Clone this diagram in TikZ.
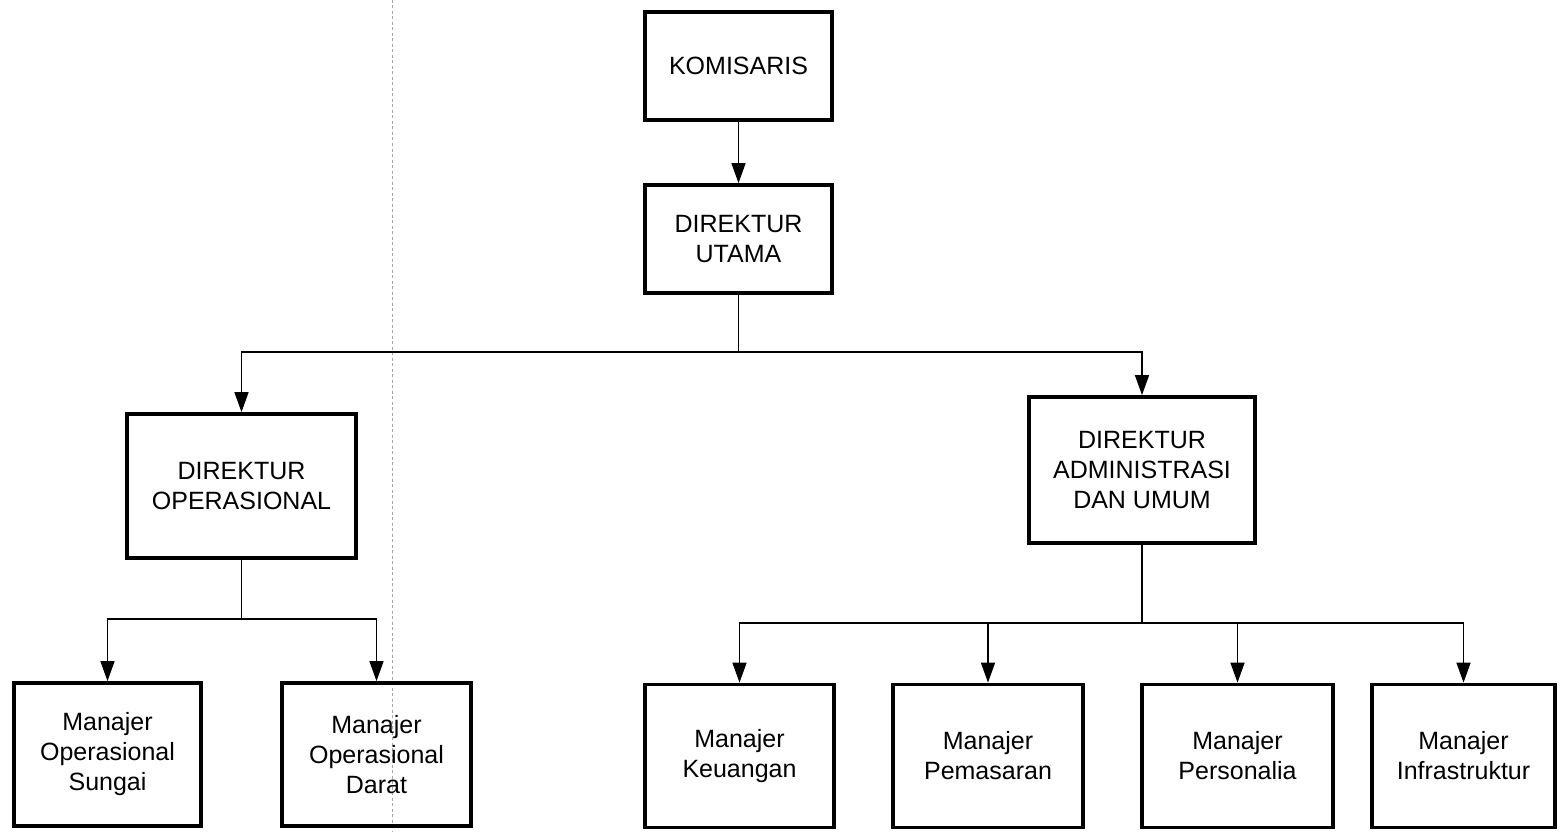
\documentclass[tikz,border=0pt]{standalone}
\usepackage{fontspec}
\setmainfont{Liberation Sans}
\usetikzlibrary{arrows.meta}
\begin{document}
\begin{tikzpicture}[x=1pt,y=-1pt,
  orgbox/.style={draw=black, line width=3.8pt, align=center, inner sep=0pt,
    font=\fontsize{25}{30}\selectfont},
  conn/.style={line width=1.6pt},
  arr/.style={conn, -{Triangle[length=20pt,width=14pt]}},
  scanline/.style={draw=gray!70, line width=0.7pt, dash pattern=on 3pt off 2.5pt}
]
\useasboundingbox (0,0) rectangle (1560,832);
\draw[scanline] (392,0) -- (392,832);

\node[orgbox, minimum width=187pt, minimum height=108pt] (kom) at (738.5,66) {KOMISARIS};
\node[orgbox, minimum width=187pt, minimum height=108pt] (dirut) at (738.5,239) {DIREKTUR\\UTAMA};
\node[orgbox, minimum width=229pt, minimum height=144pt] (dirop) at (241.5,486) {DIREKTUR\\OPERASIONAL};
\node[orgbox, minimum width=226pt, minimum height=146pt] (diradm) at (1142,470) {DIREKTUR\\ADMINISTRASI\\DAN UMUM};

\node[orgbox, minimum width=187pt, minimum height=143pt] (sungai) at (107.5,754.5) {Manajer\\Operasional\\Sungai};
\node[orgbox, minimum width=189pt, minimum height=143pt] (darat) at (376.5,754.5) {Manajer\\Operasional\\Darat};
\node[orgbox, minimum width=189pt, minimum height=143pt] (keu) at (739.5,756) {Manajer\\Keuangan};
\node[orgbox, minimum width=190pt, minimum height=143pt] (pem) at (988,756) {Manajer\\Pemasaran};
\node[orgbox, minimum width=191pt, minimum height=143pt] (per) at (1237.5,756) {Manajer\\Personalia};
\node[orgbox, minimum width=183pt, minimum height=143pt] (inf) at (1463.5,756) {Manajer\\Infrastruktur};

\draw[arr] (kom) -- (dirut);

\coordinate (j1) at (738.5,352);
\draw[conn] (dirut) -- (j1);
\draw[arr] (j1) -| (dirop);
\draw[arr] (j1) -| (diradm);

\coordinate (j2) at (241.5,619);
\draw[conn] (dirop) -- (j2);
\draw[arr] (j2) -| (sungai);
\draw[arr] (j2) -| (darat);

\coordinate (j3) at (1142,623);
\draw[conn] (diradm) -- (j3);
\draw[arr] (j3) -| (keu);
\draw[arr] (j3) -| (pem);
\draw[arr] (j3) -| (per);
\draw[arr] (j3) -| (inf);
\end{tikzpicture}
\end{document}
